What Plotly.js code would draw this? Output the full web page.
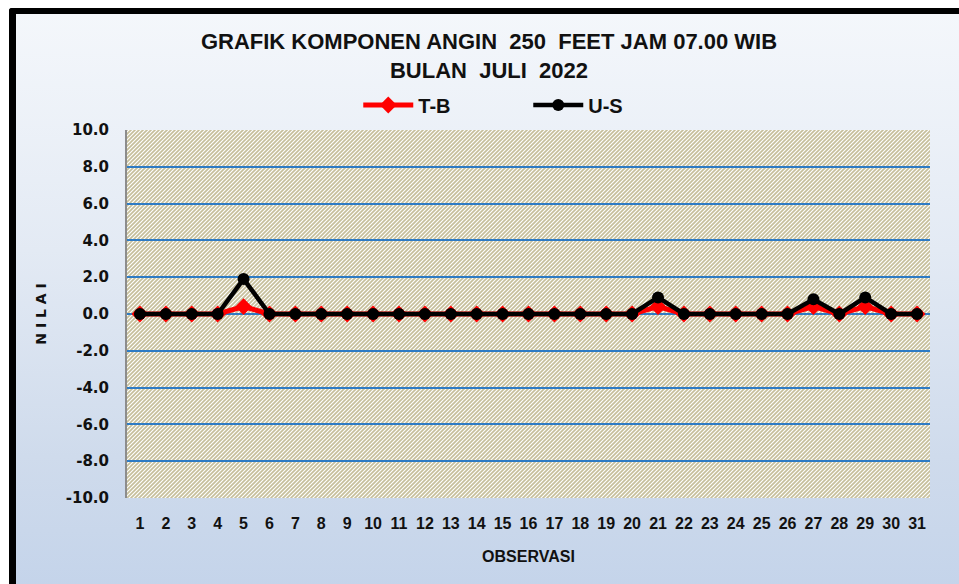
<!DOCTYPE html>
<html>
<head>
<meta charset="utf-8">
<script src="https://cdn.plot.ly/plotly-3.0.1.min.js"></script>
<style>
  html, body { margin:0; padding:0; background:#ffffff; width:959px; height:584px; overflow:hidden; }
  #frame { position:absolute; left:9px; top:8px; width:960px; height:590px;
           border-top:6px solid #000; border-left:7px solid #000; border-top-left-radius:3px;
           background:linear-gradient(to bottom, #f4f7fb 0%, #e3eaf4 40%, #cfdbec 75%, #c3d3ea 100%); }
  #chart { position:absolute; left:0; top:0; width:959px; height:584px; }
</style>
</head>
<body>
<div id="frame"></div>
<div id="chart"></div>
<script>
// ---- data ----
const days = ['1','2','3','4','5','6','7','8','9','10','11','12','13','14','15','16',
              '17','18','19','20','21','22','23','24','25','26','27','28','29','30','31'];
const tbValues = [0,0,0,0,0.4,0,0,0,0,0,0,0,0,0,0,0,0,0,0,0,0.4,0,0,0,0,0,0.4,0,0.4,0,0];
const usValues = [0,0,0,0,1.9,0,0,0,0,0,0,0,0,0,0,0,0,0,0,0,0.9,0,0,0,0,0,0.8,0,0.9,0,0];
const yTickValues = [-10,-8,-6,-4,-2,0,2,4,6,8,10];
const yTickLabels = ['-10.0','-8.0','-6.0','-4.0','-2.0','0.0','2.0','4.0','6.0','8.0','10.0'];
const seriesNames = ['T-B','U-S'];
const titleText = 'GRAFIK KOMPONEN ANGIN  250  FEET JAM 07.00 WIB<br>BULAN  JULI  2022';

const narrow = '"Liberation Sans Narrow", "Liberation Sans", Arial, sans-serif';
const wide = '"DejaVu Sans", Verdana, sans-serif';

// striped plot-area background (Excel "wide upward diagonal" pattern)
const W = 803, H = 368;
const svg = `<svg xmlns="http://www.w3.org/2000/svg" width="${W}" height="${H}">` +
  `<defs><pattern id="p" width="4" height="4" patternUnits="userSpaceOnUse">` +
  `<rect width="4" height="4" fill="#ffffff"/>` +
  `<path d="M-1,1 L1,-1 M0,4 L4,0 M3,5 L5,3" stroke="#c6bf9b" stroke-width="1.7"/>` +
  `</pattern></defs><rect width="${W}" height="${H}" fill="url(#p)"/></svg>`;
const bgImg = 'data:image/svg+xml;base64,' + btoa(svg);

const traces = [
  { x: days, y: tbValues, name: seriesNames[0], type: 'scatter', mode: 'lines+markers',
    line: { color: '#ff0000', width: 5 },
    marker: { symbol: 'diamond', size: 13, color: '#ff0000' } },
  { x: days, y: usValues, name: seriesNames[1], type: 'scatter', mode: 'lines+markers',
    line: { color: '#000000', width: 4.5 },
    marker: { symbol: 'circle', size: 12, color: '#000000' } }
];

const layout = {
  width: 959, height: 584,
  margin: { l: 127, r: 29, t: 130, b: 86 },
  paper_bgcolor: 'rgba(0,0,0,0)',
  plot_bgcolor: 'rgba(0,0,0,0)',
  showlegend: true,
  title: { text: titleText, x: 489/959, xanchor: 'center', xref: 'container',
           y: 1 - 49/584, yanchor: 'top', yref: 'container',
           font: { family: narrow, size: 22, color: '#111', weight: 'bold' } },
  legend: { orientation: 'h', x: 0.288, xanchor: 'left', y: 1.068, yanchor: 'middle',
            itemwidth: 50, entrywidth: 105, entrywidthmode: 'pixels', bgcolor: 'rgba(0,0,0,0)',
            font: { family: narrow, size: 20, color: '#111', weight: 'bold' } },
  xaxis: { type: 'category', range: [-0.5, 30.5], showgrid: false, zeroline: false,
           showline: false, ticks: '', ticklabelstandoff: 14,
           tickfont: { family: narrow, size: 16, color: '#111', weight: 'bold' },
           title: { text: 'OBSERVASI', standoff: 19,
                    font: { family: narrow, size: 16, color: '#111', weight: 'bold' } } },
  yaxis: { range: [-10, 10], tickmode: 'array', tickvals: yTickValues, ticktext: yTickLabels,
           showgrid: true, gridcolor: '#2e7bc4', gridwidth: 2,
           zeroline: true, zerolinecolor: '#2e7bc4', zerolinewidth: 2,
           showline: true, linecolor: '#8c8c8c', linewidth: 2, ticks: '', ticklabelstandoff: 13,
           tickfont: { family: wide, size: 15, color: '#111', weight: 'bold' },
           title: { text: 'N I L A I', standoff: 16,
                    font: { family: wide, size: 14, color: '#111', weight: 'bold' } } },
  images: [{ source: bgImg, xref: 'paper', yref: 'paper', x: 0, y: 1, sizex: 1, sizey: 1,
             xanchor: 'left', yanchor: 'top', sizing: 'stretch', layer: 'below' }]
};

Plotly.newPlot('chart', traces, layout, { displayModeBar: false, staticPlot: true });
</script>
</body>
</html>
